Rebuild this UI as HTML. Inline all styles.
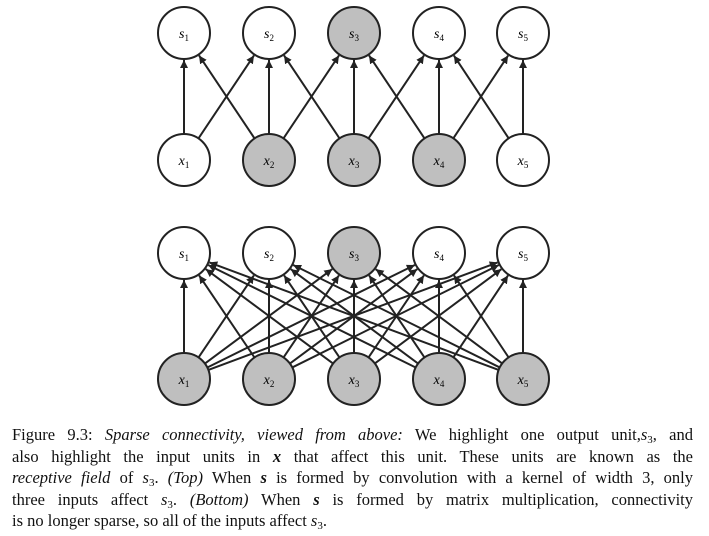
<!DOCTYPE html>
<html><head><meta charset="utf-8"><style>
html,body{margin:0;padding:0;background:#fff;}
body{width:709px;height:536px;position:relative;overflow:hidden;}
svg{position:absolute;left:0;top:0;}
.cap{position:absolute;left:12px;width:681px;font-family:"Liberation Serif",serif;font-size:16.5px;line-height:21.5px;top:424px;color:#111;}
.cap div{text-align:justify;text-align-last:justify;white-space:nowrap;}
.cap div.last{text-align-last:left;}
i{font-style:italic;}
sub{font-size:11px;vertical-align:-3px;line-height:0;}
</style></head><body>
<svg id="s" width="709" height="420" xmlns="http://www.w3.org/2000/svg">
<defs><marker id="a" viewBox="0 0 10 10" refX="10" refY="5" markerWidth="4" markerHeight="4" orient="auto"><path d="M0,0 L10,5 L0,10 z" fill="#222"/></marker></defs>
<g id="g"></g>
</svg>
<div class="cap">
<div>Figure 9.3: <i>Sparse connectivity, viewed from above:</i> We highlight one output unit,<i>s</i><sub>3</sub>, and</div>
<div>also highlight the input units in <b><i>x</i></b> that affect this unit. These units are known as the</div>
<div><i>receptive field</i> of <i>s</i><sub>3</sub>. <i>(Top)</i> When <b><i>s</i></b> is formed by convolution with a kernel of width 3, only</div>
<div>three inputs affect <i>s</i><sub>3</sub>. <i>(Bottom)</i> When <b><i>s</i></b> is formed by matrix multiplication, connectivity</div>
<div class="last">is no longer sparse, so all of the inputs affect <i>s</i><sub>3</sub>.</div>
</div>
<script>
var X=[184,269,354,439,523],R=26,g=document.getElementById('g'),NS='http://www.w3.org/2000/svg',h='';
function layer(sy,xy,full,grayX){
 for(var i=0;i<5;i++)for(var j=0;j<5;j++){
  if(!full&&Math.abs(i-j)>1)continue;
  var x1=X[i],y1=xy,x2=X[j],y2=sy,dx=x2-x1,dy=y2-y1,L=Math.sqrt(dx*dx+dy*dy);
  var ux=dx/L,uy=dy/L;
  h+='<line x1="'+(x1+ux*R)+'" y1="'+(y1+uy*R)+'" x2="'+(x2-ux*(R+1))+'" y2="'+(y2-uy*(R+1))+'" stroke="#222" stroke-width="2" marker-end="url(#a)"/>';
 }
 for(var k=0;k<5;k++){
  h+='<circle cx="'+X[k]+'" cy="'+sy+'" r="'+R+'" fill="'+(k==2?'#bfbfbf':'#fff')+'" stroke="#222" stroke-width="2"/>';
  h+='<text x="'+X[k]+'" y="'+(sy+5)+'" text-anchor="middle" font-family="Liberation Serif,serif" font-style="italic" font-size="14">s<tspan font-size="9" dy="3" font-style="normal">'+(k+1)+'</tspan></text>';
  h+='<circle cx="'+X[k]+'" cy="'+xy+'" r="'+R+'" fill="'+(grayX(k)?'#bfbfbf':'#fff')+'" stroke="#222" stroke-width="2"/>';
  h+='<text x="'+X[k]+'" y="'+(xy+5)+'" text-anchor="middle" font-family="Liberation Serif,serif" font-style="italic" font-size="14">x<tspan font-size="9" dy="3" font-style="normal">'+(k+1)+'</tspan></text>';
 }
}
layer(33,160,false,function(k){return k>=1&&k<=3;});
layer(253,379,true,function(k){return true;});
g.innerHTML=h;
</script>
</body></html>
